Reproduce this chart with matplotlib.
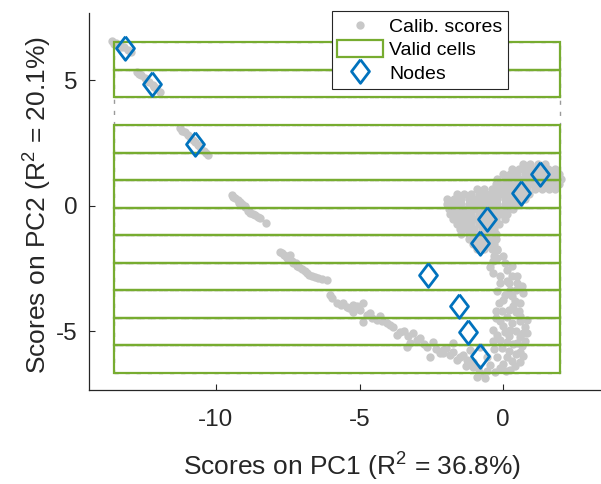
import numpy as np
import matplotlib
matplotlib.use('Agg')
import matplotlib.pyplot as plt
from matplotlib.patches import Rectangle
from matplotlib.lines import Line2D

plt.rcParams['font.family'] = ['Liberation Sans', 'DejaVu Sans']
plt.rcParams['mathtext.fontset'] = 'custom'
plt.rcParams['mathtext.rm'] = 'Liberation Sans'
plt.rcParams['axes.unicode_minus'] = False

# calibration scores along the curved trail (PC1, PC2)
calib_trail = [
    (-13.62, 6.55), (-13.48, 6.47), (-13.34, 6.39), (-13.20, 6.31), (-13.07, 6.18), (-12.97, 6.10),
    (-13.55, 6.45), (-13.30, 6.30),
    (-12.75, 5.33), (-12.61, 5.20), (-12.47, 5.08), (-12.33, 4.92), (-12.19, 4.80), (-12.09, 4.68), (-11.95, 4.52),
    (-12.68, 5.22), (-12.40, 4.98), (-12.15, 4.72),
    (-11.25, 3.09), (-11.08, 2.93), (-10.91, 2.73), (-10.73, 2.53), (-10.56, 2.33), (-10.42, 2.17), (-10.28, 2.01),
    (-11.18, 2.98), (-10.98, 2.80), (-10.80, 2.60), (-10.62, 2.42), (-10.35, 2.10),
    (-9.45, 0.42), (-9.34, 0.30), (-9.23, 0.22), (-9.09, 0.06), (-8.99, -0.06), (-8.85, -0.22), (-8.71, -0.34),
    (-8.54, -0.46), (-8.27, -0.71), (-9.20, 0.10), (-8.90, -0.20),
    (-9.40, 0.35), (-9.15, 0.15), (-9.00, 0.00), (-8.80, -0.30), (-8.65, -0.38), (-8.45, -0.50),
    (-7.77, -1.84), (-7.63, -1.97), (-7.53, -2.09), (-7.35, -2.21), (-7.18, -2.41), (-7.00, -2.53), (-6.83, -2.69),
    (-6.66, -2.81), (-6.45, -2.89), (-6.14, -2.97), (-7.42, -1.97), (-7.21, -2.29), (-7.45, -2.15), (-6.90, -2.62),
    (-7.70, -1.90), (-7.55, -2.00), (-7.30, -2.30), (-7.10, -2.45), (-6.75, -2.75), (-6.55, -2.85), (-6.30, -2.93),
    (-6.03, -3.57), (-5.79, -3.90), (-5.57, -3.88), (-5.23, -3.96), (-4.88, -3.88), (-5.23, -4.23), (-5.45, -4.03),
    (-4.98, -4.16), (-4.63, -4.28), (-4.88, -4.63), (-4.40, -4.56), (-4.05, -4.68), (-4.29, -4.40), (-3.94, -4.76),
    (-3.70, -5.16), (-3.45, -5.00), (-3.14, -5.08), (-3.24, -5.48), (-2.89, -5.28), (-2.66, -5.63), (-2.44, -5.43),
    (-2.20, -5.88), (-2.54, -6.02), (-1.99, -5.68), (-1.74, -5.82), (-1.61, -6.16), (-3.36, -5.63),
    (-5.95, -3.70), (-5.65, -3.95), (-5.35, -4.10), (-5.10, -4.00), (-4.75, -4.35), (-4.55, -4.50), (-4.20, -4.62),
    (-3.85, -4.85), (-3.60, -5.05), (-3.30, -5.20), (-3.00, -5.35), (-2.75, -5.50), (-2.35, -5.70), (-2.10, -5.75),
    (-1.85, -5.95),
    (-1.50, -6.02), (-1.26, -6.16), (-1.05, -6.22), (-1.05, -6.42), (-0.80, -6.67), (-0.57, -6.02), (-0.80, -5.63),
    (-2.09, -5.88), (-1.74, -5.48), (-1.39, -5.96), (-1.15, -5.76), (-0.45, -6.36), (-0.28, -6.63), (-0.10, -6.47),
    (-0.63, -6.87), (-0.87, -6.47), (-1.30, -6.40), (-0.90, -6.85), (-0.55, -6.60), (0.10, -6.60),
    (-0.22, -1.77), (-0.22, -2.09), (-0.45, -2.44), (0.13, -2.57), (-0.10, -2.81), (-0.10, -3.09), (0.48, -3.09),
    (0.24, -3.37), (0.00, -3.76), (0.59, -3.88), (0.31, -3.61), (0.13, -4.43), (0.83, -4.56), (0.45, -4.24),
    (0.70, -5.08), (-0.35, -4.96), (-0.10, -5.36), (0.48, -5.48), (0.24, -4.96), (0.13, -6.02), (0.24, -6.55),
    (0.59, -5.84), (0.83, -5.09), (0.59, -6.24), (-0.03, -5.68), (0.05, -2.30), (0.30, -2.80), (-0.20, -3.40),
    (0.35, -4.00), (0.60, -4.60), (0.20, -5.20), (0.45, -5.90), (0.00, -6.30), (0.70, -3.50), (-0.25, -4.50),
    (-0.30, -2.00), (0.00, -2.00), (-0.35, -2.70), (0.20, -3.10), (-0.15, -3.90), (0.55, -4.20), (0.30, -4.70),
    (0.75, -4.85), (0.00, -4.80), (0.35, -5.50), (0.75, -5.40), (-0.30, -5.70), (0.30, -6.20), (0.15, -3.00),
    (0.45, -3.35), (-0.05, -4.20), (0.50, -2.80),
    (-0.35, -2.20), (0.30, -2.40), (0.65, -3.20), (0.05, -3.55), (0.40, -3.80), (-0.25, -4.20), (0.20, -4.15),
    (0.60, -4.40), (-0.10, -4.60), (0.45, -5.00), (0.05, -5.05), (0.60, -5.25), (-0.20, -5.15), (0.15, -5.45),
    (0.65, -5.60), (-0.35, -5.40), (0.20, -5.80), (0.70, -6.00), (-0.20, -6.05), (0.40, -6.40),
]

# dense group of calibration scores near the origin, one row per PC2 level
cluster_pc2 = [1.65, 1.45, 1.25, 1.05, 0.85, 0.65, 0.45, 0.25, 0.05, -0.15, -0.35, -0.55, -0.75, -0.95,
               -1.15, -1.35, -1.55, -1.75]
cluster_pc1 = [
    [0.7, 0.95, 1.2, 1.45],
    [0.3, 0.55, 0.8, 1.05, 1.3, 1.55, 1.8],
    [0.0, 0.25, 0.5, 0.75, 1.0, 1.25, 1.5, 1.75, 1.95],
    [-0.2, 0.05, 0.3, 0.55, 0.8, 1.05, 1.3, 1.55, 1.8, 2.0],
    [-0.25, 0.0, 0.25, 0.5, 0.75, 1.0, 1.25, 1.5, 1.75, 1.95],
    [-0.9, -0.65, -0.4, -0.15, 0.1, 0.35, 0.6, 0.85, 1.1, 1.35, 1.6, 1.8],
    [-1.6, -1.35, -1.1, -0.85, -0.6, -0.35, -0.1, 0.15, 0.4, 0.65, 0.9],
    [-1.95, -1.7, -1.45, -1.2, -0.95, -0.7, -0.45, -0.2, 0.05, 0.3, 0.55, 0.75],
    [-1.95, -1.7, -1.45, -1.2, -0.95, -0.7, -0.45, -0.2, 0.05, 0.3, 0.55],
    [-1.9, -1.65, -1.4, -1.15, -0.9, -0.65, -0.4, -0.15, 0.1, 0.35],
    [-1.85, -1.6, -1.35, -1.1, -0.85, -0.6, -0.35, -0.1, 0.15],
    [-1.75, -1.5, -1.25, -1.0, -0.75, -0.5, -0.25, 0.05],
    [-1.6, -1.35, -1.1, -0.85, -0.6, -0.35, -0.15],
    [-1.5, -1.25, -1.0, -0.75, -0.5, -0.3],
    [-1.45, -1.2, -0.95, -0.7, -0.45, -0.25],
    [-1.2, -0.95, -0.7, -0.45, -0.25],
    [-1.05, -0.8, -0.55, -0.3],
    [-0.9, -0.65, -0.4, -0.2],
]

# grid cells (one column of PC1, rows of PC2) and which rows are valid
cell_pc1_edges = [-13.55, 1.99]
cell_pc2_edges = [-6.67, -5.56, -4.48, -3.37, -2.29, -1.18, -0.10, 1.02, 2.09, 3.21, 4.32, 5.40, 6.51]
cell_valid = [True, True, True, True, True, True, True, True, True, False, True, True]

node_pc1 = [-13.17, -12.22, -10.72, 1.29, 0.62, -0.56, -0.80, -2.61, -1.53, -1.21, -0.80]
node_pc2 = [6.29, 4.84, 2.45, 1.25, 0.51, -0.53, -1.49, -2.77, -3.99, -5.04, -6.00]

trail = np.array(calib_trail)
cx = np.concatenate([row for row in cluster_pc1])
cy = np.concatenate([[y] * len(row) for y, row in zip(cluster_pc2, cluster_pc1)])
calib_x = np.concatenate([trail[:, 0], cx])
calib_y = np.concatenate([trail[:, 1], cy])

gray = '#c8c8c8'
green = '#77AC30'
blue = '#0072BD'
diamond = [(0, 1), (0.76, 0), (0, -1), (-0.76, 0), (0, 1)]

fig = plt.figure(figsize=(6.01, 4.84), dpi=100)
ax = fig.add_axes([89 / 601, 94 / 484, 512 / 601, 377 / 484])

ax.plot(calib_x, calib_y, 'o', color=gray, markersize=6, markeredgewidth=0, zorder=1)

x0, x1 = cell_pc1_edges
for i in range(len(cell_pc2_edges) - 1):
    y0, y1 = cell_pc2_edges[i], cell_pc2_edges[i + 1]
    ax.add_patch(Rectangle((x0, y0), x1 - x0, y1 - y0, fill=False, edgecolor='#9a9a9a',
                           linewidth=1.0, linestyle=(0, (3, 5)), zorder=2))
for i, ok in enumerate(cell_valid):
    if not ok:
        continue
    y0, y1 = cell_pc2_edges[i], cell_pc2_edges[i + 1]
    ax.add_patch(Rectangle((x0, y0), x1 - x0, y1 - y0, fill=False, edgecolor=green,
                           linewidth=1.6, zorder=3))

ax.plot(node_pc1, node_pc2, linestyle='none', marker=diamond, markersize=17,
        markerfacecolor='none', markeredgecolor=blue, markeredgewidth=2, zorder=4)

ax.set_xlim(-14.42, 3.41)
ax.set_ylim(-7.35, 7.67)
ax.set_xticks([-10, -5, 0])
ax.set_yticks([-5, 0, 5])
ax.spines['top'].set_visible(False)
ax.spines['right'].set_visible(False)
for s in ['left', 'bottom']:
    ax.spines[s].set_color('#262626')
    ax.spines[s].set_linewidth(0.9)
ax.tick_params(direction='in', length=4, width=0.8, color='#262626', labelsize=17.5,
               labelcolor='#262626')
ax.tick_params(axis='x', pad=14)
ax.tick_params(axis='y', pad=8)

ax.set_xlabel(r'Scores on PC1 (R$^2$ = 36.8%)', fontsize=19, color='#262626')
ax.set_ylabel(r'Scores on PC2 (R$^2$ = 20.1%)', fontsize=19, color='#262626')
ax.xaxis.label.set_va('center')
ax.yaxis.label.set_va('center')
ax.xaxis.set_label_coords((352 - 89) / 512, (390 - 466) / 377)
ax.yaxis.set_label_coords((37 - 89) / 512, (390 - 205) / 377)

handles = [
    Line2D([], [], linestyle='none', marker='o', color=gray, markersize=6, markeredgewidth=0),
    Rectangle((0, 0), 1, 1, fill=False, edgecolor=green, linewidth=1.6),
    Line2D([], [], linestyle='none', marker=diamond, markersize=17, markerfacecolor='none',
           markeredgecolor=blue, markeredgewidth=2),
]
leg = ax.legend(handles, ['Calib. scores', 'Valid cells', 'Nodes'], loc='upper right',
                bbox_to_anchor=(508 / 601, 1 - 11 / 484), bbox_transform=fig.transFigure,
                borderaxespad=0, fontsize=14, fancybox=False, framealpha=1, edgecolor='#262626',
                handlelength=2.35, handleheight=1.0, handletextpad=0.3, labelspacing=0.2,
                borderpad=0.3)
leg.get_frame().set_linewidth(0.8)
leg.set_zorder(5)

fig.savefig('out.png', dpi=100)
